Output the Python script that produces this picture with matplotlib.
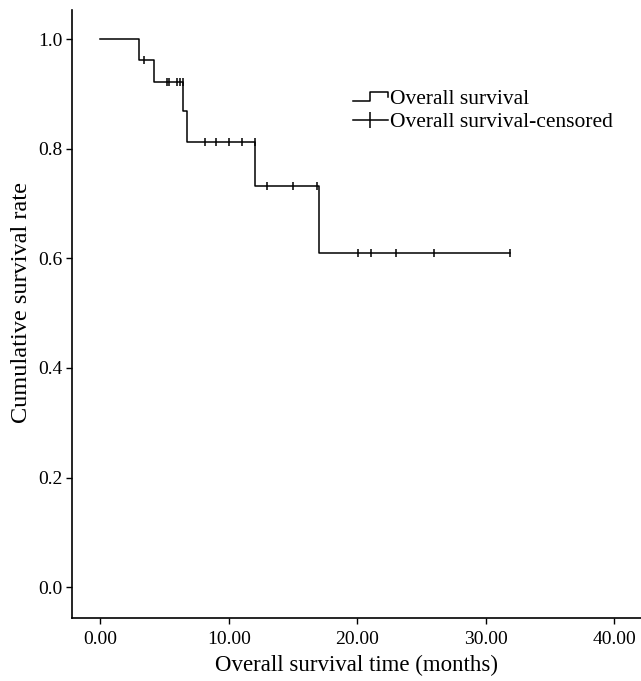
import numpy as np
import matplotlib
matplotlib.use('Agg')
import matplotlib.pyplot as plt
from matplotlib.lines import Line2D
from matplotlib.legend_handler import HandlerBase

plt.rcParams['font.family'] = 'Liberation Serif'

# survival step function (event times, survival after event)
event_t = [0.0, 3.01, 4.21, 6.47, 6.78, 12.05, 17.02]
event_s = [1.0, 0.962, 0.922, 0.869, 0.813, 0.732, 0.610]
last_t = 31.94

# censored observations
censor_t = [3.38, 5.17, 5.35, 6.0, 6.19, 6.45, 8.18, 8.99, 10.0, 11.02, 12.03,
            12.99, 14.99, 16.9, 20.1, 21.09, 23.01, 26.0, 31.94]

xticks = [0, 10, 20, 30, 40]
yticks = [0.0, 0.2, 0.4, 0.6, 0.8, 1.0]


def surv_at(t):
    i = np.searchsorted(event_t, t, side='right') - 1
    return event_s[i]


class StepHandler(HandlerBase):
    def create_artists(self, legend, orig_handle, xdescent, ydescent,
                       width, height, fontsize, trans):
        x0 = -xdescent
        y0 = -ydescent
        xs = [x0, x0 + 0.48 * width, x0 + 0.48 * width, x0 + width, x0 + width]
        ys = [y0 + 0.2 * height, y0 + 0.2 * height, y0 + 0.8 * height,
              y0 + 0.8 * height, y0 + 0.45 * height]
        ln = Line2D(xs, ys, color='black', lw=1.1, transform=trans)
        return [ln]


fig = plt.figure(figsize=(6.41, 6.81), dpi=100)
ax = fig.add_axes([0.1123, 0.0918, 0.8877, 0.8935])

xs = event_t + [last_t]
ys = event_s + [event_s[-1]]
line, = ax.step(xs, ys, where='post', color='black', lw=1.1)
cs = [surv_at(t) for t in censor_t]
cens, = ax.plot(censor_t, cs, linestyle='none', marker='|', ms=6, mew=1.1, color='black')

ax.set_xlim(-2.2, 42.1)
ax.set_ylim(-0.057, 1.053)
ax.set_xticks(xticks)
ax.set_xticklabels(['%.2f' % v for v in xticks])
ax.set_yticks(yticks)
ax.set_yticklabels(['%.1f' % v for v in yticks])
ax.tick_params(direction='out', length=4, width=1, labelsize=14, colors='black')
ax.tick_params(axis='x', pad=5)
ax.tick_params(axis='y', pad=3)
for s in ['top', 'right']:
    ax.spines[s].set_visible(False)
for s in ['left', 'bottom']:
    ax.spines[s].set_linewidth(1.2)

ax.set_xlabel('Overall survival time (months)', fontsize=16.5, labelpad=5)
ax.set_ylabel('Cumulative survival rate', fontsize=17.5)
ax.yaxis.set_label_coords(-0.071, 0.52)

cens_handle = Line2D([], [], color='black', lw=1.1, marker='|', ms=11, mew=1.1)
ax.legend([line, cens_handle], ['Overall survival', 'Overall survival-censored'],
          handler_map={line: StepHandler()},
          loc='upper left', bbox_to_anchor=(0.494, 0.870), frameon=False,
          fontsize=15.5, handlelength=1.6, handletextpad=0.1, labelspacing=0.15,
          borderpad=0, borderaxespad=0)

fig.savefig('out.png', dpi=100)
